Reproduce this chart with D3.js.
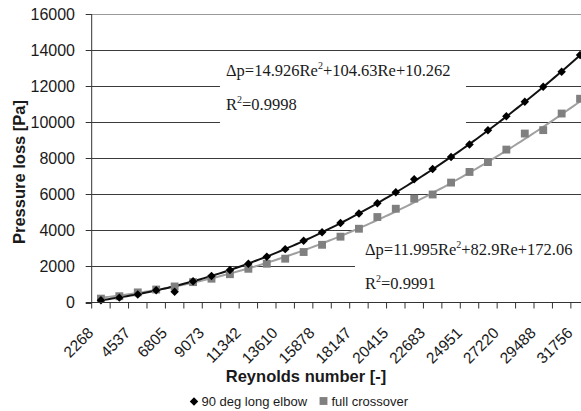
<!DOCTYPE html>
<html><head><meta charset="utf-8">
<script src="https://cdn.jsdelivr.net/npm/d3@7"></script>
<style>body{margin:0;background:#fff}svg{display:block}</style>
</head><body><svg id="c" width="581" height="411"></svg>
<script>
// ---- data ----
const reynolds = [2268,3402,4537,5671,6805,7939,9073,10207,11342,12476,13610,14744,15878,17013,18147,19281,20415,21549,22683,23817,24951,26086,27220,28354,29488,30622,31756];
const elbow = [120,270,450,680,600,1180,1470,1800,2150,2540,2960,3420,3900,4410,4930,5500,6110,6830,7400,8070,8760,9550,10330,11130,11960,12800,13720];
const crossover = [215,350,560,720,890,1130,1320,1570,1870,2150,2430,2800,3200,3650,4090,4740,5200,5760,5990,6650,7240,7790,8480,9370,9560,10480,11300];
const yTicks = [0,2000,4000,6000,8000,10000,12000,14000,16000];
const elbowFit = [14.926,104.63,10.262];
const crossFit = [11.995,82.9,172.06];
const seriesNames = ["90 deg long elbow","full crossover"];
const xTitle = "Reynolds number [-]";
const yTitle = "Pressure loss [Pa]";
const elbowEq = ["Δp=14.926Re","2","+104.63Re+10.262"], elbowR2 = "0.9998";
const crossEq = ["Δp=11.995Re","2","+82.9Re+172.06"], crossR2 = "0.9991";

// ---- layout ----
const svg = d3.select("#c");
const L = 91.7, R = 589.3, T = 14, B = 302.5;
const x = d3.scaleBand().domain(reynolds).range([L, R]).paddingInner(0).paddingOuter(0);
const bw = x.bandwidth();
const xt = d3.scaleLinear().domain([0.5, reynolds.length + 0.5]).range([L, R]);
const y = d3.scaleLinear().domain([0, 16000]).range([B, T]);
const sans = "'Liberation Sans', Arial, sans-serif";
const serif = "'Liberation Serif', 'Times New Roman', serif";
const ink = "#1a1a1a";

// gridlines
svg.append("g").selectAll("line").data(yTicks.filter(d => d > 0)).join("line")
  .attr("x1", L).attr("x2", 581)
  .attr("y1", d => Math.round(y(d)) + 0.5).attr("y2", d => Math.round(y(d)) + 0.5)
  .attr("stroke", d => d === 16000 ? "#9a9a9a" : "#3a3a3a").attr("stroke-width", 1);

// label boxes (white backgrounds of trendline labels)
svg.append("rect").attr("x", 220).attr("y", 56).attr("width", 246).attr("height", 70).attr("fill", "#fff");
svg.append("rect").attr("x", 355).attr("y", 227).attr("width", 240).attr("height", 70).attr("fill", "#fff");

// trendlines
function poly(c) { return v => c[0] * v * v + c[1] * v + c[2]; }
const xs = d3.range(1, reynolds.length + 0.001, 0.2);
const line = f => d3.line().x(v => xt(v)).y(v => y(f(v)))(xs);
svg.append("path").attr("d", line(poly(crossFit))).attr("fill", "none").attr("stroke", "#a0a0a0").attr("stroke-width", 2);
svg.append("path").attr("d", line(poly(elbowFit))).attr("fill", "none").attr("stroke", "#111").attr("stroke-width", 2);

// markers
const sq = d3.symbol().type(d3.symbolSquare).size(62);
const dia = d3.symbol().type(d3.symbolSquare).size(36);
svg.append("g").selectAll("path").data(crossover).join("path")
  .attr("d", sq).attr("fill", "#808080")
  .attr("transform", (d, i) => `translate(${x(reynolds[i]) + bw / 2},${y(d)})`);
svg.append("g").selectAll("path").data(elbow).join("path")
  .attr("d", dia).attr("fill", "#000")
  .attr("transform", (d, i) => `translate(${x(reynolds[i]) + bw / 2},${y(d)}) rotate(45)`);

// axes
svg.append("line").attr("x1", L).attr("x2", L).attr("y1", T).attr("y2", B).attr("stroke", "#333");
svg.append("line").attr("x1", L - 6).attr("x2", 581).attr("y1", B).attr("y2", B).attr("stroke", "#333");
svg.append("g").selectAll("line").data(yTicks).join("line")
  .attr("x1", L - 6).attr("x2", L)
  .attr("y1", d => Math.round(y(d)) + 0.5).attr("y2", d => Math.round(y(d)) + 0.5).attr("stroke", "#333");
svg.append("g").selectAll("text").data(yTicks).join("text")
  .attr("x", 75).attr("y", d => y(d) + 5.8).attr("text-anchor", "end")
  .attr("font-family", sans).attr("font-size", 16).attr("fill", ink).text(d => d);
svg.append("g").selectAll("line").data(d3.range(reynolds.length + 1)).join("line")
  .attr("x1", i => L + i * bw).attr("x2", i => L + i * bw).attr("y1", B).attr("y2", B + 6).attr("stroke", "#333");
svg.append("g").selectAll("text").data(reynolds.filter((d, i) => i % 2 === 0)).join("text")
  .attr("transform", d => `translate(${x(d) + bw / 2 - 6.5},${B + 31.5}) rotate(-45)`)
  .attr("text-anchor", "end").attr("font-family", sans).attr("font-size", 15.5).attr("fill", ink).text(d => d);

// titles
svg.append("text").attr("x", 306).attr("y", 381.5).attr("text-anchor", "middle")
  .attr("font-family", sans).attr("font-weight", "bold").attr("font-size", 16.5).attr("fill", ink).text(xTitle);
svg.append("text").attr("transform", "translate(24.5,172) rotate(-90)").attr("text-anchor", "middle")
  .attr("font-family", sans).attr("font-weight", "bold").attr("font-size", 16.5).attr("fill", ink).text(yTitle);

// equations
function eq(xp, yp, parts, r2) {
  const t = svg.append("text").attr("x", xp).attr("y", yp).attr("font-family", serif).attr("font-size", 16.5).attr("fill", ink);
  t.append("tspan").text(parts[0]);
  t.append("tspan").attr("font-size", 10).attr("dy", -7).text(parts[1]);
  t.append("tspan").attr("dy", 7).text(parts[2]);
  const r = svg.append("text").attr("x", xp).attr("y", yp + 34).attr("font-family", serif).attr("font-size", 16.5).attr("fill", ink);
  r.append("tspan").text("R");
  r.append("tspan").attr("font-size", 10).attr("dy", -7).text("2");
  r.append("tspan").attr("dy", 7).text("=" + r2);
}
eq(226, 76, elbowEq, elbowR2);
eq(365, 255, crossEq, crossR2);

// legend
const lg = svg.append("g");
lg.append("path").attr("d", dia).attr("fill", "#000").attr("transform", "translate(194,401.5) rotate(45)");
lg.append("text").attr("x", 201.5).attr("y", 405.5).attr("font-family", sans).attr("font-size", 13).attr("fill", ink).text(seriesNames[0]);
lg.append("path").attr("d", sq).attr("fill", "#808080").attr("transform", "translate(323.5,401)");
lg.append("text").attr("x", 331.5).attr("y", 405.5).attr("font-family", sans).attr("font-size", 13).attr("fill", ink).text(seriesNames[1]);
</script></body></html>
